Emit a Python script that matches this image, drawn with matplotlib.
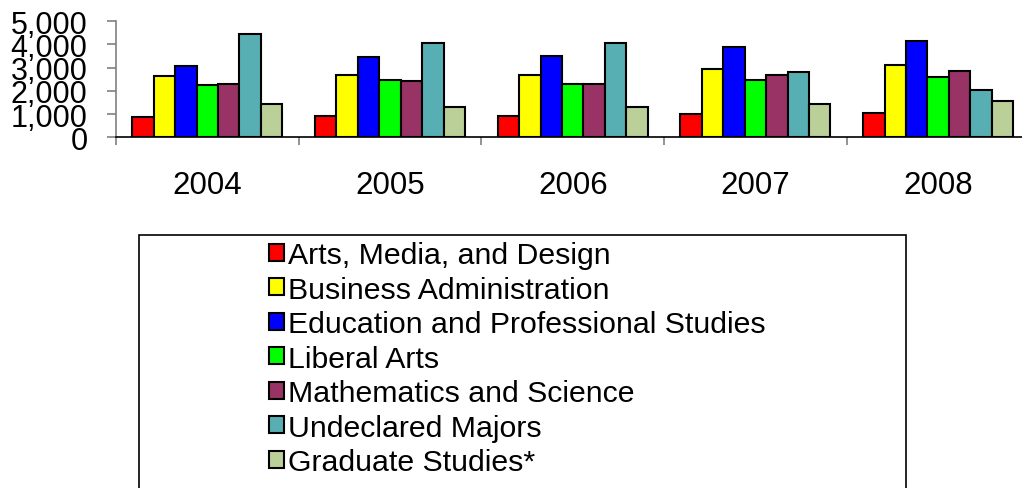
import matplotlib
matplotlib.use("Agg")
import matplotlib.pyplot as plt
import numpy as np
from matplotlib.patches import Rectangle
from matplotlib.ticker import FuncFormatter

plt.rcParams['font.family'] = ['Liberation Sans', 'DejaVu Sans']

years = ["2004", "2005", "2006", "2007", "2008"]
series_names = [
    "Arts, Media, and Design",
    "Business Administration",
    "Education and Professional Studies",
    "Liberal Arts",
    "Mathematics and Science",
    "Undeclared Majors",
    "Graduate Studies*",
]
arts = [870, 930, 920, 1000, 1060]
business = [2620, 2690, 2690, 2950, 3090]
education = [3080, 3470, 3510, 3900, 4140]
liberal = [2260, 2450, 2280, 2460, 2590]
math_sci = [2300, 2420, 2280, 2680, 2850]
undeclared = [4450, 4050, 4070, 2820, 2030]
graduate = [1430, 1320, 1290, 1420, 1560]
values = [arts, business, education, liberal, math_sci, undeclared, graduate]
colors = ["#FF0000", "#FFFF00", "#0000FF", "#00FF00", "#993366", "#58AFB3", "#BBCF99"]

W, H = 1022, 489
fig = plt.figure(figsize=(W / 100, H / 100), dpi=100)
ax = fig.add_axes([116 / W, (H - 138.3) / H, 913.5 / W, 116.3 / H])

n = len(values)
bw = 0.821 / n
x = np.arange(len(years))
handles = []
for i, (vals, c, name) in enumerate(zip(values, colors, series_names)):
    b = ax.bar(x - 0.821 / 2 + bw * (i + 0.5), vals, width=bw, color=c,
               edgecolor="black", linewidth=1.5, label=name, zorder=3)
    handles.append(b)

ax.set_xlim(-0.5, len(years) - 0.5)
ax.set_ylim(0, 5000)
ax.set_yticks([0, 1000, 2000, 3000, 4000, 5000])
ax.yaxis.set_major_formatter(FuncFormatter(lambda v, p: f"{int(v):,}"))
ax.tick_params(axis="y", length=6.5, color="#808080", width=1.2, labelsize=22, pad=14)

ax.set_xticks(x)
ax.set_xticklabels(years)
ax.set_xticks(np.arange(len(years) + 1) - 0.5, minor=True)
ax.tick_params(axis="x", which="major", length=0, labelsize=22.5, pad=23.5)
ax.tick_params(axis="x", which="minor", length=6, color="#808080", width=1.2)

for s in ["top", "right"]:
    ax.spines[s].set_visible(False)
ax.spines["left"].set_color("#808080")
ax.spines["left"].set_linewidth(1.2)
ax.spines["bottom"].set_color("black")
ax.spines["bottom"].set_linewidth(1.2)

# legend frame
fig.patches.append(Rectangle((138.5 / W, -0.05), (905.7 - 138.5) / W, (H - 236) / H + 0.05,
                             transform=fig.transFigure, fill=False, edgecolor="black",
                             linewidth=1.2))
leg = fig.legend(handles=handles, labels=series_names, loc="upper left",
                 bbox_to_anchor=(269 / W, (H - 242) / H), frameon=False,
                 fontsize=21.8, handlelength=0.5, handleheight=0.5, handletextpad=0.12,
                 labelspacing=0.215, borderpad=0, borderaxespad=0)

fig.savefig("out.png", dpi=100)
